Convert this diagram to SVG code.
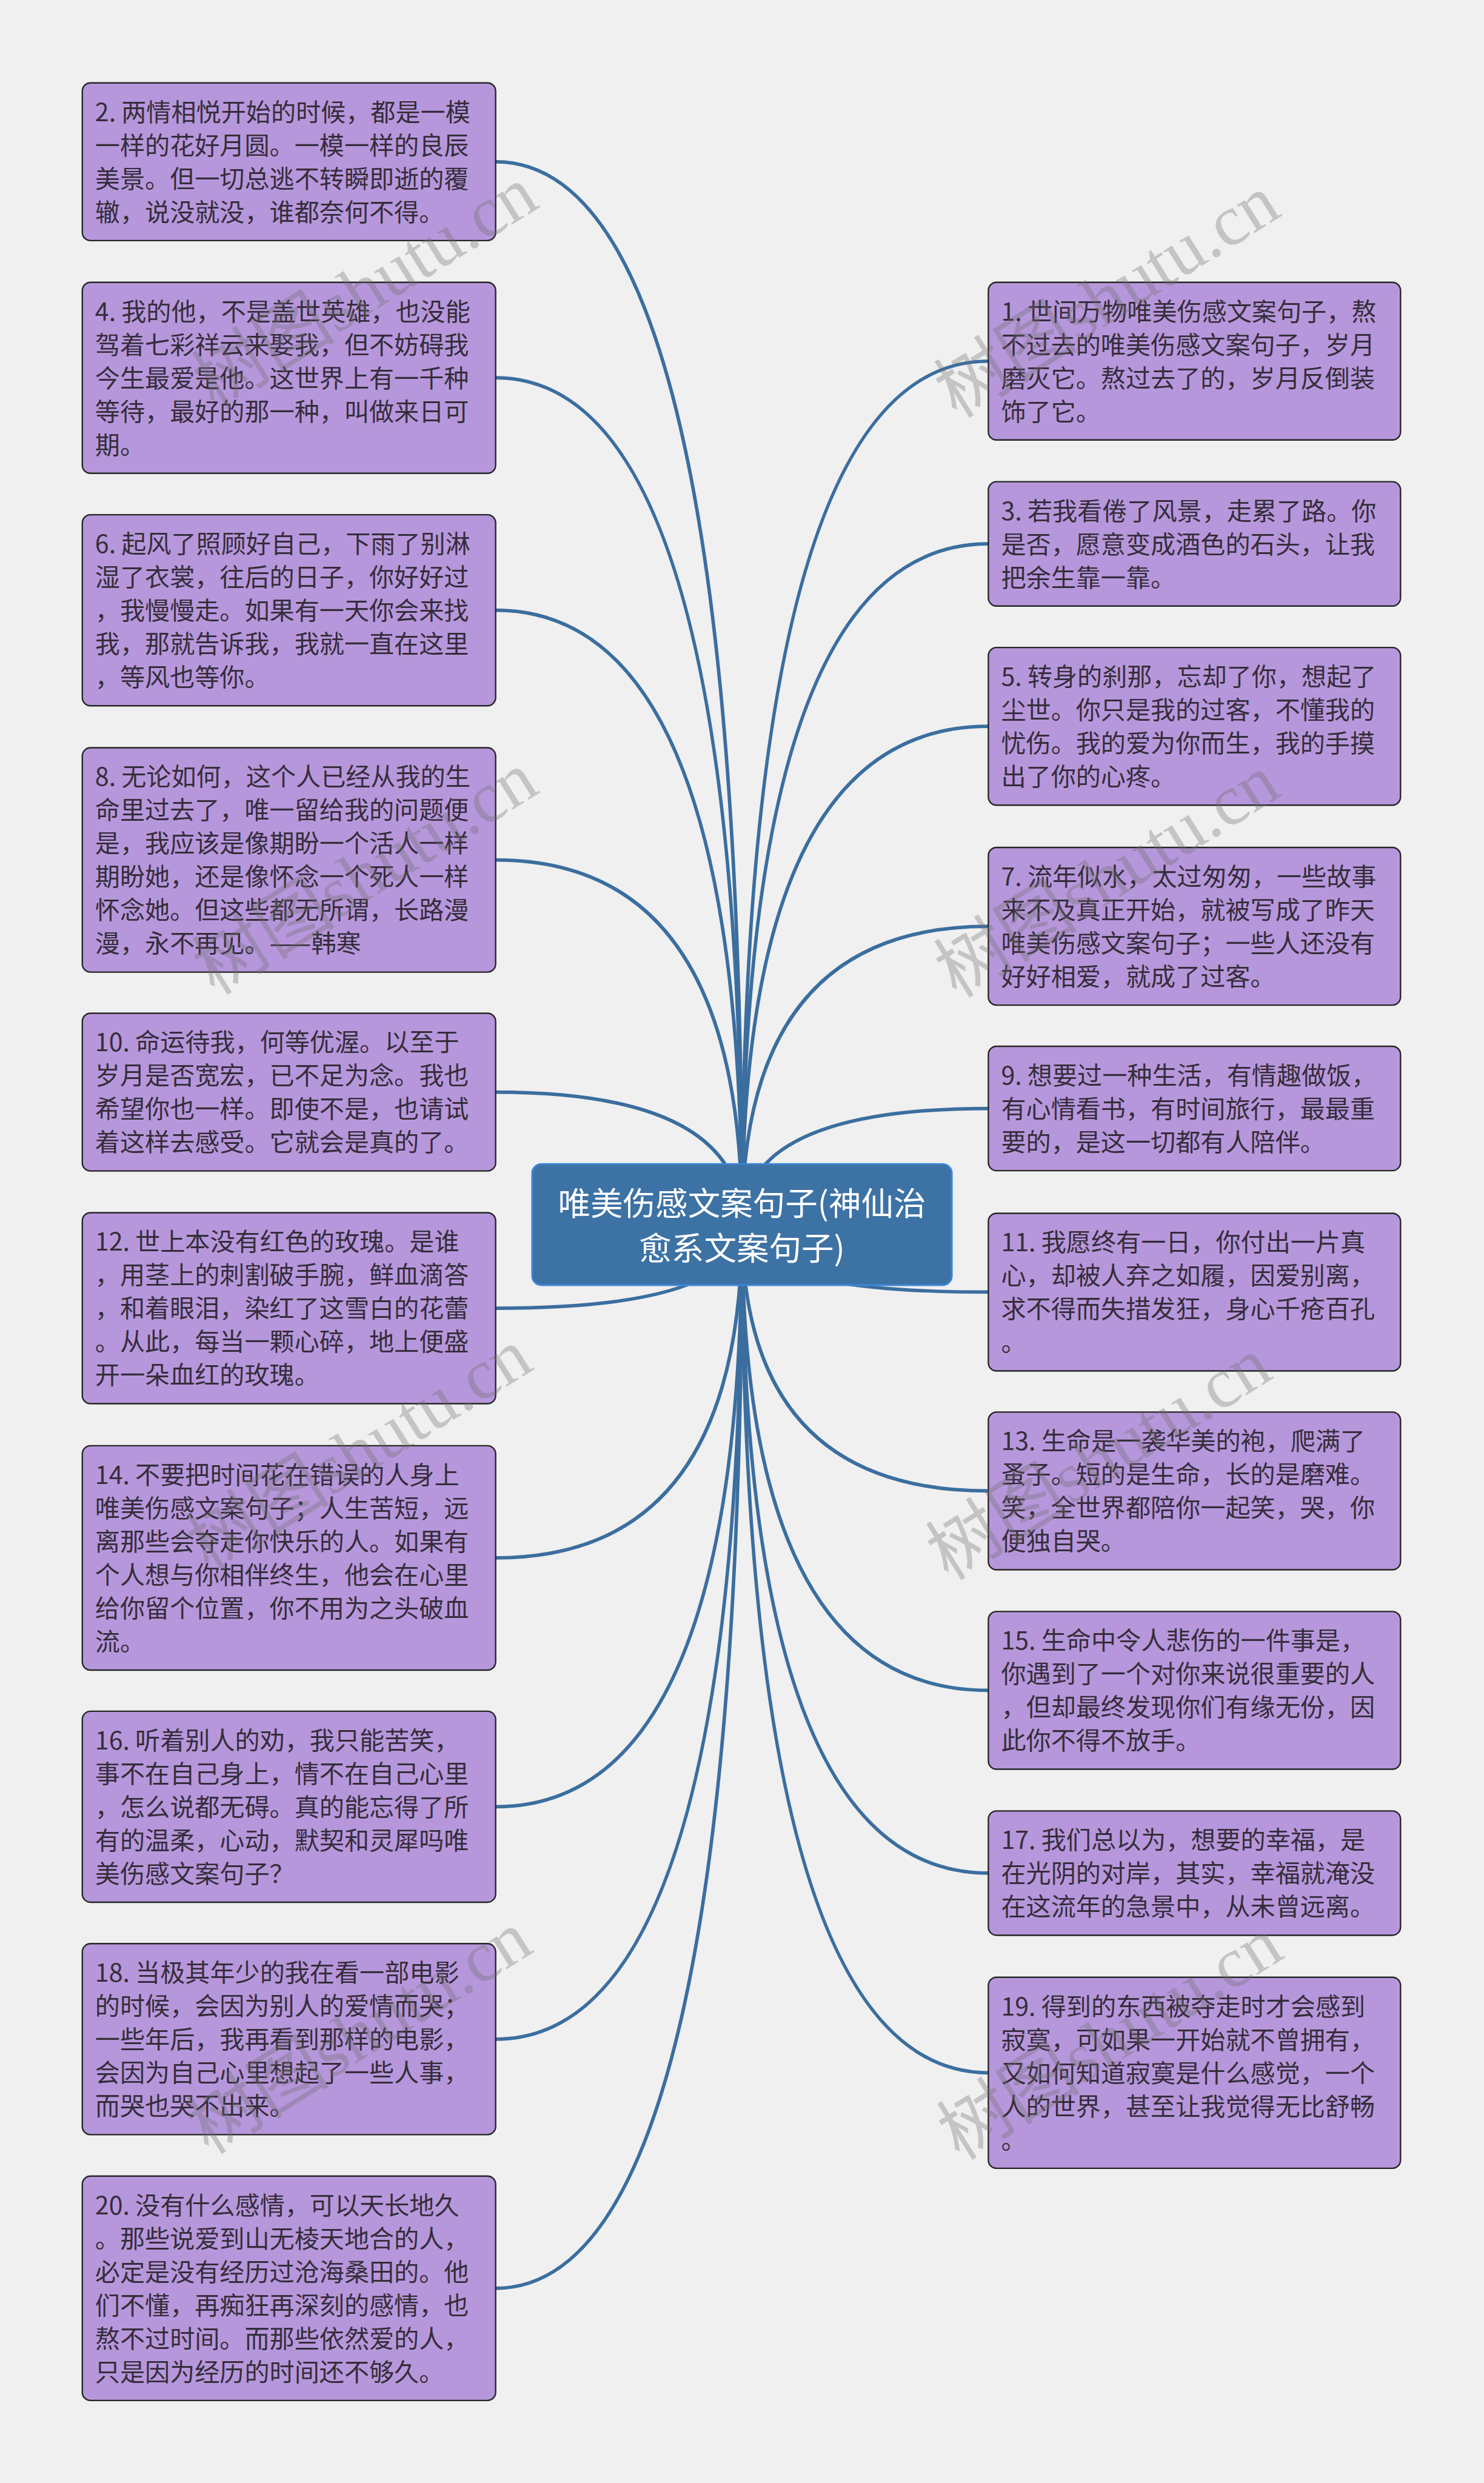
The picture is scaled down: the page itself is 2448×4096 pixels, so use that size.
<svg xmlns="http://www.w3.org/2000/svg" width="2448" height="4096" viewBox="0 0 2448 4096">
<style>
.bg{fill:#f0f0f0}
.node rect{fill:#b797db;stroke:#262626;stroke-width:2.5}
.node text{font-family:"Noto Sans CJK SC","Noto Sans",sans-serif;font-size:43px;fill:#352d3b}
.link{fill:none;stroke:#3b6e9f;stroke-width:6}
.center rect{fill:#3d72a4;stroke:#3f86d8;stroke-width:3}
.center text{font-family:"Noto Sans CJK SC","Noto Sans",sans-serif;font-size:56px;fill:#ffffff;text-anchor:middle}
.wm{font-family:"Liberation Serif","Noto Sans CJK SC",serif;font-size:124px;fill:#6e6e6e;opacity:0.33;text-anchor:middle}
</style>
<rect class="bg" x="0" y="0" width="2448" height="4096"/>
<g transform="scale(0.95625)">
<g id="connectors">
<path class="link" d="M855,279 Q1280,279 1280,2112.5"/>
<path class="link" d="M855,651.75 Q1280,651.75 1280,2112.5"/>
<path class="link" d="M855,1052.75 Q1280,1052.75 1280,2112.5"/>
<path class="link" d="M855,1483.5 Q1280,1483.5 1280,2112.5"/>
<path class="link" d="M855,1884 Q1280,1884 1280,2112.5"/>
<path class="link" d="M855,2256.75 Q1280,2256.75 1280,2112.5"/>
<path class="link" d="M855,2687.5 Q1280,2687.5 1280,2112.5"/>
<path class="link" d="M855,3116.75 Q1280,3116.75 1280,2112.5"/>
<path class="link" d="M855,3517.75 Q1280,3517.75 1280,2112.5"/>
<path class="link" d="M855,3947.5 Q1280,3947.5 1280,2112.5"/>
<path class="link" d="M1705,623 Q1280,623 1280,2112.5"/>
<path class="link" d="M1705,938.25 Q1280,938.25 1280,2112.5"/>
<path class="link" d="M1705,1253 Q1280,1253 1280,2112.5"/>
<path class="link" d="M1705,1598 Q1280,1598 1280,2112.5"/>
<path class="link" d="M1705,1912.25 Q1280,1912.25 1280,2112.5"/>
<path class="link" d="M1705,2229 Q1280,2229 1280,2112.5"/>
<path class="link" d="M1705,2572 Q1280,2572 1280,2112.5"/>
<path class="link" d="M1705,2916 Q1280,2916 1280,2112.5"/>
<path class="link" d="M1705,3231.25 Q1280,3231.25 1280,2112.5"/>
<path class="link" d="M1705,3575.75 Q1280,3575.75 1280,2112.5"/>
</g>
<g id="center" class="center">
<rect x="918" y="2008" width="724" height="209" rx="16"/>
<text><tspan x="1280" y="2097">唯美伤感文案句子(神仙治</tspan><tspan x="1280" y="2174">愈系文案句子)</tspan></text>
</g>
<g id="n2" class="node"><rect x="142" y="143" width="713" height="272" rx="14"/>
<text><tspan x="164" y="208.8">2. 两情相悦开始的时候，都是一模</tspan><tspan x="164" y="266.3">一样的花好月圆。一模一样的良辰</tspan><tspan x="164" y="323.8">美景。但一切总逃不转瞬即逝的覆</tspan><tspan x="164" y="381.3">辙，说没就没，谁都奈何不得。</tspan></text></g>
<g id="n4" class="node"><rect x="142" y="487" width="713" height="329.5" rx="14"/>
<text><tspan x="164" y="552.8">4. 我的他，不是盖世英雄，也没能</tspan><tspan x="164" y="610.3">驾着七彩祥云来娶我，但不妨碍我</tspan><tspan x="164" y="667.8">今生最爱是他。这世界上有一千种</tspan><tspan x="164" y="725.3">等待，最好的那一种，叫做来日可</tspan><tspan x="164" y="782.8">期。</tspan></text></g>
<g id="n6" class="node"><rect x="142" y="888" width="713" height="329.5" rx="14"/>
<text><tspan x="164" y="953.8">6. 起风了照顾好自己，下雨了别淋</tspan><tspan x="164" y="1011.3">湿了衣裳，往后的日子，你好好过</tspan><tspan x="164" y="1068.8">，我慢慢走。如果有一天你会来找</tspan><tspan x="164" y="1126.3">我，那就告诉我，我就一直在这里</tspan><tspan x="164" y="1183.8">，等风也等你。</tspan></text></g>
<g id="n8" class="node"><rect x="142" y="1290" width="713" height="387" rx="14"/>
<text><tspan x="164" y="1355.8">8. 无论如何，这个人已经从我的生</tspan><tspan x="164" y="1413.3">命里过去了，唯一留给我的问题便</tspan><tspan x="164" y="1470.8">是，我应该是像期盼一个活人一样</tspan><tspan x="164" y="1528.3">期盼她，还是像怀念一个死人一样</tspan><tspan x="164" y="1585.8">怀念她。但这些都无所谓，长路漫</tspan><tspan x="164" y="1643.3">漫，永不再见。——韩寒</tspan></text></g>
<g id="n10" class="node"><rect x="142" y="1748" width="713" height="272" rx="14"/>
<text><tspan x="164" y="1813.8">10. 命运待我，何等优渥。以至于</tspan><tspan x="164" y="1871.3">岁月是否宽宏，已不足为念。我也</tspan><tspan x="164" y="1928.8">希望你也一样。即使不是，也请试</tspan><tspan x="164" y="1986.3">着这样去感受。它就会是真的了。</tspan></text></g>
<g id="n12" class="node"><rect x="142" y="2092" width="713" height="329.5" rx="14"/>
<text><tspan x="164" y="2157.8">12. 世上本没有红色的玫瑰。是谁</tspan><tspan x="164" y="2215.3">，用茎上的刺割破手腕，鲜血滴答</tspan><tspan x="164" y="2272.8">，和着眼泪，染红了这雪白的花蕾</tspan><tspan x="164" y="2330.3">。从此，每当一颗心碎，地上便盛</tspan><tspan x="164" y="2387.8">开一朵血红的玫瑰。</tspan></text></g>
<g id="n14" class="node"><rect x="142" y="2494" width="713" height="387" rx="14"/>
<text><tspan x="164" y="2559.8">14. 不要把时间花在错误的人身上</tspan><tspan x="164" y="2617.3">唯美伤感文案句子；人生苦短，远</tspan><tspan x="164" y="2674.8">离那些会夺走你快乐的人。如果有</tspan><tspan x="164" y="2732.3">个人想与你相伴终生，他会在心里</tspan><tspan x="164" y="2789.8">给你留个位置，你不用为之头破血</tspan><tspan x="164" y="2847.3">流。</tspan></text></g>
<g id="n16" class="node"><rect x="142" y="2952" width="713" height="329.5" rx="14"/>
<text><tspan x="164" y="3017.8">16. 听着别人的劝，我只能苦笑，</tspan><tspan x="164" y="3075.3">事不在自己身上，情不在自己心里</tspan><tspan x="164" y="3132.8">，怎么说都无碍。真的能忘得了所</tspan><tspan x="164" y="3190.3">有的温柔，心动，默契和灵犀吗唯</tspan><tspan x="164" y="3247.8">美伤感文案句子？</tspan></text></g>
<g id="n18" class="node"><rect x="142" y="3353" width="713" height="329.5" rx="14"/>
<text><tspan x="164" y="3418.8">18. 当极其年少的我在看一部电影</tspan><tspan x="164" y="3476.3">的时候，会因为别人的爱情而哭；</tspan><tspan x="164" y="3533.8">一些年后，我再看到那样的电影，</tspan><tspan x="164" y="3591.3">会因为自己心里想起了一些人事，</tspan><tspan x="164" y="3648.8">而哭也哭不出来。</tspan></text></g>
<g id="n20" class="node"><rect x="142" y="3754" width="713" height="387" rx="14"/>
<text><tspan x="164" y="3819.8">20. 没有什么感情，可以天长地久</tspan><tspan x="164" y="3877.3">。那些说爱到山无棱天地合的人，</tspan><tspan x="164" y="3934.8">必定是没有经历过沧海桑田的。他</tspan><tspan x="164" y="3992.3">们不懂，再痴狂再深刻的感情，也</tspan><tspan x="164" y="4049.8">熬不过时间。而那些依然爱的人，</tspan><tspan x="164" y="4107.3">只是因为经历的时间还不够久。</tspan></text></g>
<g id="n1" class="node"><rect x="1705" y="487" width="711" height="272" rx="14"/>
<text><tspan x="1727" y="552.8">1. 世间万物唯美伤感文案句子，熬</tspan><tspan x="1727" y="610.3">不过去的唯美伤感文案句子，岁月</tspan><tspan x="1727" y="667.8">磨灭它。熬过去了的，岁月反倒装</tspan><tspan x="1727" y="725.3">饰了它。</tspan></text></g>
<g id="n3" class="node"><rect x="1705" y="831" width="711" height="214.5" rx="14"/>
<text><tspan x="1727" y="896.8">3. 若我看倦了风景，走累了路。你</tspan><tspan x="1727" y="954.3">是否，愿意变成酒色的石头，让我</tspan><tspan x="1727" y="1011.8">把余生靠一靠。</tspan></text></g>
<g id="n5" class="node"><rect x="1705" y="1117" width="711" height="272" rx="14"/>
<text><tspan x="1727" y="1182.8">5. 转身的刹那，忘却了你，想起了</tspan><tspan x="1727" y="1240.3">尘世。你只是我的过客，不懂我的</tspan><tspan x="1727" y="1297.8">忧伤。我的爱为你而生，我的手摸</tspan><tspan x="1727" y="1355.3">出了你的心疼。</tspan></text></g>
<g id="n7" class="node"><rect x="1705" y="1462" width="711" height="272" rx="14"/>
<text><tspan x="1727" y="1527.8">7. 流年似水，太过匆匆，一些故事</tspan><tspan x="1727" y="1585.3">来不及真正开始，就被写成了昨天</tspan><tspan x="1727" y="1642.8">唯美伤感文案句子；一些人还没有</tspan><tspan x="1727" y="1700.3">好好相爱，就成了过客。</tspan></text></g>
<g id="n9" class="node"><rect x="1705" y="1805" width="711" height="214.5" rx="14"/>
<text><tspan x="1727" y="1870.8">9. 想要过一种生活，有情趣做饭，</tspan><tspan x="1727" y="1928.3">有心情看书，有时间旅行，最最重</tspan><tspan x="1727" y="1985.8">要的，是这一切都有人陪伴。</tspan></text></g>
<g id="n11" class="node"><rect x="1705" y="2093" width="711" height="272" rx="14"/>
<text><tspan x="1727" y="2158.8">11. 我愿终有一日，你付出一片真</tspan><tspan x="1727" y="2216.3">心，却被人弃之如履，因爱别离，</tspan><tspan x="1727" y="2273.8">求不得而失措发狂，身心千疮百孔</tspan><tspan x="1727" y="2331.3">。</tspan></text></g>
<g id="n13" class="node"><rect x="1705" y="2436" width="711" height="272" rx="14"/>
<text><tspan x="1727" y="2501.8">13. 生命是一袭华美的袍，爬满了</tspan><tspan x="1727" y="2559.3">蚤子。短的是生命，长的是磨难。</tspan><tspan x="1727" y="2616.8">笑，全世界都陪你一起笑，哭，你</tspan><tspan x="1727" y="2674.3">便独自哭。</tspan></text></g>
<g id="n15" class="node"><rect x="1705" y="2780" width="711" height="272" rx="14"/>
<text><tspan x="1727" y="2845.8">15. 生命中令人悲伤的一件事是，</tspan><tspan x="1727" y="2903.3">你遇到了一个对你来说很重要的人</tspan><tspan x="1727" y="2960.8">，但却最终发现你们有缘无份，因</tspan><tspan x="1727" y="3018.3">此你不得不放手。</tspan></text></g>
<g id="n17" class="node"><rect x="1705" y="3124" width="711" height="214.5" rx="14"/>
<text><tspan x="1727" y="3189.8">17. 我们总以为，想要的幸福，是</tspan><tspan x="1727" y="3247.3">在光阴的对岸，其实，幸福就淹没</tspan><tspan x="1727" y="3304.8">在这流年的急景中，从未曾远离。</tspan></text></g>
<g id="n19" class="node"><rect x="1705" y="3411" width="711" height="329.5" rx="14"/>
<text><tspan x="1727" y="3476.8">19. 得到的东西被夺走时才会感到</tspan><tspan x="1727" y="3534.3">寂寞，可如果一开始就不曾拥有，</tspan><tspan x="1727" y="3591.8">又如何知道寂寞是什么感觉，一个</tspan><tspan x="1727" y="3649.3">人的世界，甚至让我觉得无比舒畅</tspan><tspan x="1727" y="3706.8">。</tspan></text></g>
<g id="watermarks">
<text class="wm" transform="translate(652,532) rotate(-32)">树图shutu.cn</text>
<text class="wm" transform="translate(652,1542) rotate(-32)">树图shutu.cn</text>
<text class="wm" transform="translate(642,2537) rotate(-32)">树图shutu.cn</text>
<text class="wm" transform="translate(642,3542) rotate(-32)">树图shutu.cn</text>
<text class="wm" transform="translate(1932,547) rotate(-32)">树图shutu.cn</text>
<text class="wm" transform="translate(1932,1547) rotate(-32)">树图shutu.cn</text>
<text class="wm" transform="translate(1918,2552) rotate(-32)">树图shutu.cn</text>
<text class="wm" transform="translate(1937,3552) rotate(-32)">树图shutu.cn</text>
</g>
</g>
</svg>
